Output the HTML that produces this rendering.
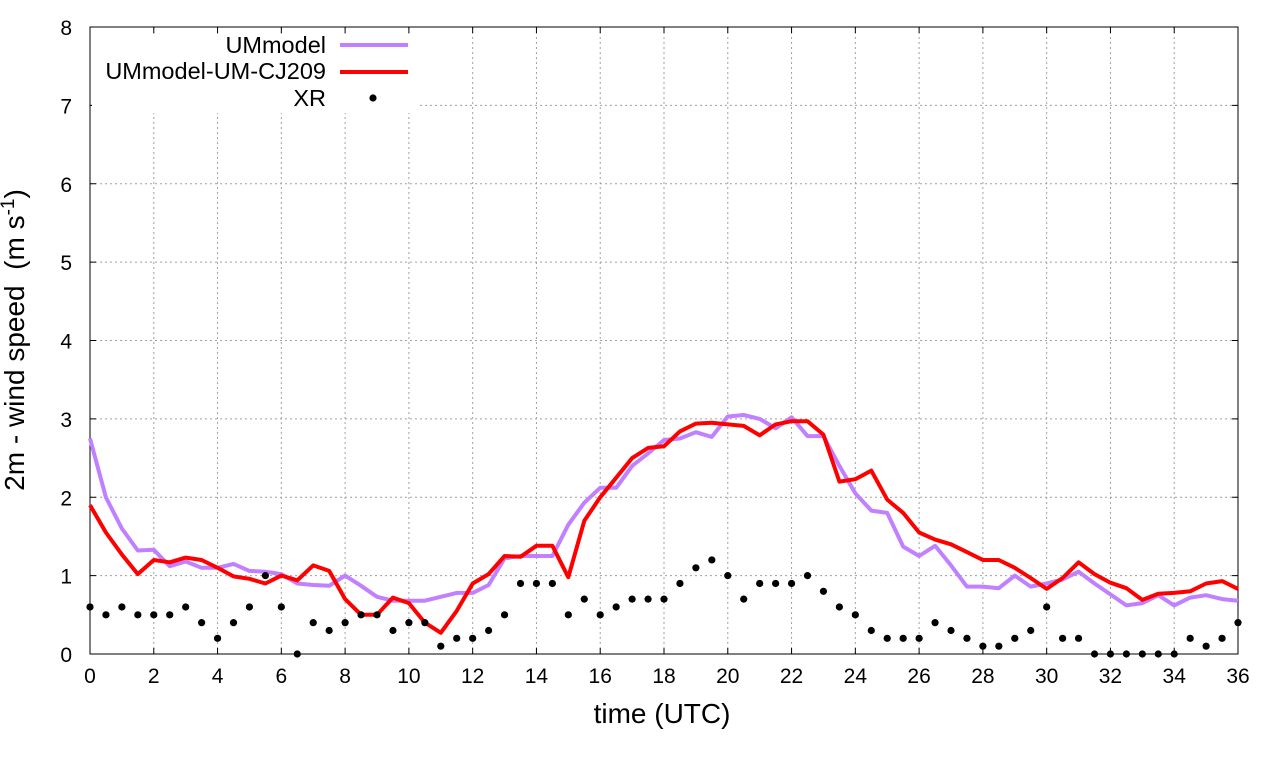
<!DOCTYPE html>
<html><head><meta charset="utf-8"><style>body{margin:0;background:#fff}svg{display:block}text{font-family:"Liberation Sans",sans-serif;fill:#000;white-space:pre}</style></head>
<body><svg id="s" width="1280" height="760" xmlns="http://www.w3.org/2000/svg"></svg>
<script>
const X0=90,X1=1238,Y0=654,Y1=27;
const px=x=>X0+(X1-X0)*x/36, py=y=>Y0-(Y0-Y1)*y/8;
const red=[1.9,1.55,1.27,1.02,1.2,1.17,1.23,1.2,1.1,0.99,0.96,0.9,1.0,0.94,1.13,1.06,0.7,0.5,0.5,0.72,0.65,0.4,0.27,0.55,0.9,1.02,1.25,1.24,1.38,1.38,0.98,1.7,2.0,2.25,2.5,2.63,2.65,2.84,2.94,2.95,2.93,2.91,2.79,2.93,2.97,2.97,2.8,2.2,2.23,2.34,1.97,1.8,1.55,1.46,1.4,1.3,1.2,1.2,1.1,0.97,0.83,0.97,1.17,1.02,0.91,0.84,0.69,0.77,0.78,0.8,0.9,0.93,0.83];
const pur=[2.75,2.0,1.6,1.32,1.33,1.12,1.18,1.1,1.1,1.15,1.06,1.05,1.02,0.9,0.88,0.87,1.0,0.87,0.73,0.68,0.68,0.68,0.73,0.78,0.78,0.88,1.22,1.25,1.25,1.25,1.65,1.93,2.12,2.12,2.4,2.56,2.73,2.75,2.83,2.77,3.03,3.05,3.0,2.88,3.02,2.78,2.78,2.4,2.05,1.83,1.8,1.37,1.25,1.38,1.13,0.86,0.86,0.84,1.0,0.86,0.9,0.95,1.05,0.9,0.76,0.62,0.65,0.75,0.62,0.72,0.75,0.7,0.68];
const xr=[0.6,0.5,0.6,0.5,0.5,0.5,0.6,0.4,0.2,0.4,0.6,1.0,0.6,0,0.4,0.3,0.4,0.5,0.5,0.3,0.4,0.4,0.1,0.2,0.2,0.3,0.5,0.9,0.9,0.9,0.5,0.7,0.5,0.6,0.7,0.7,0.7,0.9,1.1,1.2,1.0,0.7,0.9,0.9,0.9,1.0,0.8,0.6,0.5,0.3,0.2,0.2,0.2,0.4,0.3,0.2,0.1,0.1,0.2,0.3,0.6,0.2,0.2,0,0,0,0,0,0,0.2,0.1,0.2,0.4];
let h='';
for(let i=0;i<=18;i++){const x=px(i*2);
 if(i>0&&i<18)h+=`<line x1="${x}" y1="${Y1}" x2="${x}" y2="${Y0}" stroke="#a0a0a0" stroke-dasharray="2,3" stroke-width="1"/>`;
 h+=`<line x1="${x}" y1="${Y0}" x2="${x}" y2="${Y0-6}" stroke="#000"/><line x1="${x}" y1="${Y1}" x2="${x}" y2="${Y1+6}" stroke="#000"/>`;
 h+=`<text x="${x}" y="${Y0+29}" font-size="21" text-anchor="middle">${i*2}</text>`;}
for(let j=0;j<=8;j++){const y=py(j);
 if(j>0&&j<8)h+=`<line x1="${X0}" y1="${y}" x2="${X1}" y2="${y}" stroke="#a0a0a0" stroke-dasharray="2,3" stroke-width="1"/>`;
 h+=`<line x1="${X0}" y1="${y}" x2="${X0+6}" y2="${y}" stroke="#000"/><line x1="${X1}" y1="${y}" x2="${X1-6}" y2="${y}" stroke="#000"/>`;
 h+=`<text x="${X0-18}" y="${y+8}" font-size="21" text-anchor="end">${j}</text>`;}
h+=`<rect x="92" y="34" width="328" height="79" fill="#fff"/>`;
h+=`<rect x="${X0}" y="${Y1}" width="${X1-X0}" height="${Y0-Y1}" fill="none" stroke="#000"/>`;
const path=(d,c)=>`<polyline points="${d.map((v,i)=>px(i/2).toFixed(1)+','+py(v).toFixed(1)).join(' ')}" fill="none" stroke="${c}" stroke-width="4" stroke-linejoin="round"/>`;
h+=path(pur,'#c080ff');h+=path(red,'#ff0000');
xr.forEach((v,i)=>h+=`<circle cx="${px(i/2)}" cy="${py(v)}" r="3.6" fill="#000"/>`);
h+=`<text x="326" y="53" font-size="23.5" text-anchor="end">UMmodel</text><line x1="340" y1="45" x2="408" y2="45" stroke="#c080ff" stroke-width="4"/>`;
h+=`<text x="326" y="79" font-size="23.5" text-anchor="end">UMmodel-UM-CJ209</text><line x1="340" y1="72" x2="408" y2="72" stroke="#f00" stroke-width="4"/>`;
h+=`<text x="326" y="106" font-size="23.5" text-anchor="end">XR</text><circle cx="373" cy="98" r="3.6" fill="#000"/>`;
h+=`<text x="662" y="723" font-size="28" text-anchor="middle">time (UTC)</text>`;
h+=`<text transform="translate(24,340) rotate(-90)" font-size="28" text-anchor="middle">2m - wind speed  (m s<tspan dy="-10" font-size="19">-1</tspan><tspan dy="10">)</tspan></text>`;
document.getElementById('s').innerHTML=h;
</script></body></html>
